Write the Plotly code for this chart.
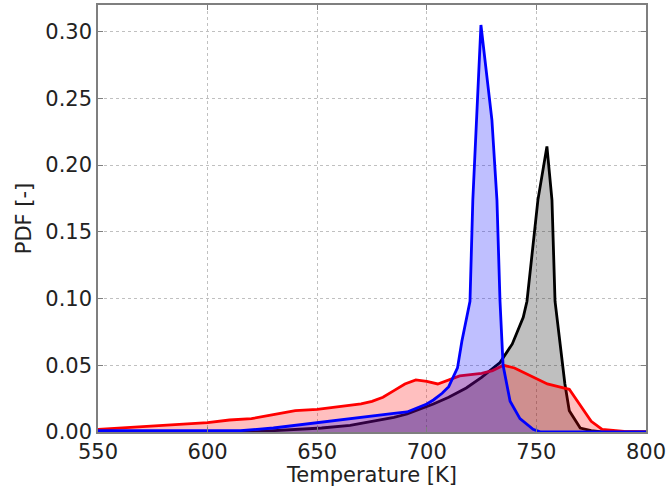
import plotly.graph_objects as go

# Data
red_T = [550, 560, 570, 580, 590, 600, 610, 620, 630, 640, 650, 660, 670, 675, 680, 685, 690, 695,
         700, 705, 710, 715, 720, 725, 730, 735, 740, 745, 750, 755, 760, 765, 770, 775, 780, 785, 790, 800]
red_pdf = [0.002, 0.003, 0.004, 0.005, 0.006, 0.007, 0.009, 0.010, 0.013, 0.016, 0.017, 0.019, 0.021,
           0.023, 0.026, 0.031, 0.036, 0.039, 0.038, 0.036, 0.039, 0.042, 0.043, 0.044, 0.046, 0.050,
           0.048, 0.044, 0.040, 0.036, 0.034, 0.032, 0.020, 0.008, 0.002, 0.001, 0.0005, 0.0]

blue_T = [550, 600, 615, 630, 645, 655, 665, 675, 685, 691, 695.5, 700, 703, 707, 710, 714, 716,
          719.7, 721, 724.7, 729.7, 732, 733.4, 734.8, 738, 742.5, 748.5, 752, 800]
blue_pdf = [0.001, 0.001, 0.001, 0.003, 0.006, 0.008, 0.0105, 0.012, 0.014, 0.015, 0.018, 0.021,
            0.024, 0.029, 0.034, 0.048, 0.068, 0.098, 0.174, 0.305, 0.234, 0.174, 0.098, 0.050,
            0.023, 0.010, 0.002, 0.0, 0.0]

black_T = [550, 620, 630, 640, 652, 665, 675, 685, 691, 697, 703, 710, 718, 725, 733.4, 739, 744,
           745.7, 750.7, 754.8, 757.1, 758.5, 760.8, 763, 765, 770, 775, 780, 800]
black_pdf = [0.0, 0.0, 0.001, 0.002, 0.003, 0.005, 0.008, 0.011, 0.0135, 0.017, 0.021, 0.026, 0.033,
             0.041, 0.052, 0.066, 0.086, 0.098, 0.174, 0.214, 0.174, 0.098, 0.068, 0.036, 0.016,
             0.003, 0.001, 0.0, 0.0]

x_ticks = [550, 600, 650, 700, 750, 800]
y_ticks = [0.00, 0.05, 0.10, 0.15, 0.20, 0.25, 0.30]
y_ticktext = ["0.00", "0.05", "0.10", "0.15", "0.20", "0.25", "0.30"]

fig = go.Figure()
series = [
    (black_T, black_pdf, "#000000", "rgba(0,0,0,0.25)"),
    (red_T, red_pdf, "#ff0000", "rgba(255,0,0,0.25)"),
    (blue_T, blue_pdf, "#0000ff", "rgba(0,0,255,0.25)"),
]
for xs, ys, lc, fc in series:
    fig.add_trace(go.Scatter(x=xs, y=ys, mode="lines", line=dict(color=lc, width=2.8),
                             fill="tozeroy", fillcolor=fc, showlegend=False))

font = dict(family="DejaVu Sans", size=21, color="#222222")
axis_common = dict(showline=True, linecolor="#7f7f7f", linewidth=1.5, mirror="ticks",
                   ticks="inside", ticklen=5, tickcolor="#7f7f7f", tickwidth=1,
                   showgrid=True, gridcolor="#c0c0c0", griddash="dot", gridwidth=1,
                   zeroline=False, tickfont=font, automargin=False,
                   ticklabeloverflow="allow")
fig.update_xaxes(range=[550, 800], tickvals=x_ticks,
                 title=dict(text="Temperature [K]", font=font, standoff=3), **axis_common)
fig.update_yaxes(range=[0, 0.32], tickvals=y_ticks, ticktext=y_ticktext,
                 title=dict(text="PDF [-]", font=font, standoff=8), **axis_common)
fig.update_layout(width=666, height=487, margin=dict(l=98, r=20, t=5, b=55),
                  plot_bgcolor="white", paper_bgcolor="white", font=font)
fig.write_html("out.html", config={"displayModeBar": False},
               post_script="document.body.style.margin='0';")
